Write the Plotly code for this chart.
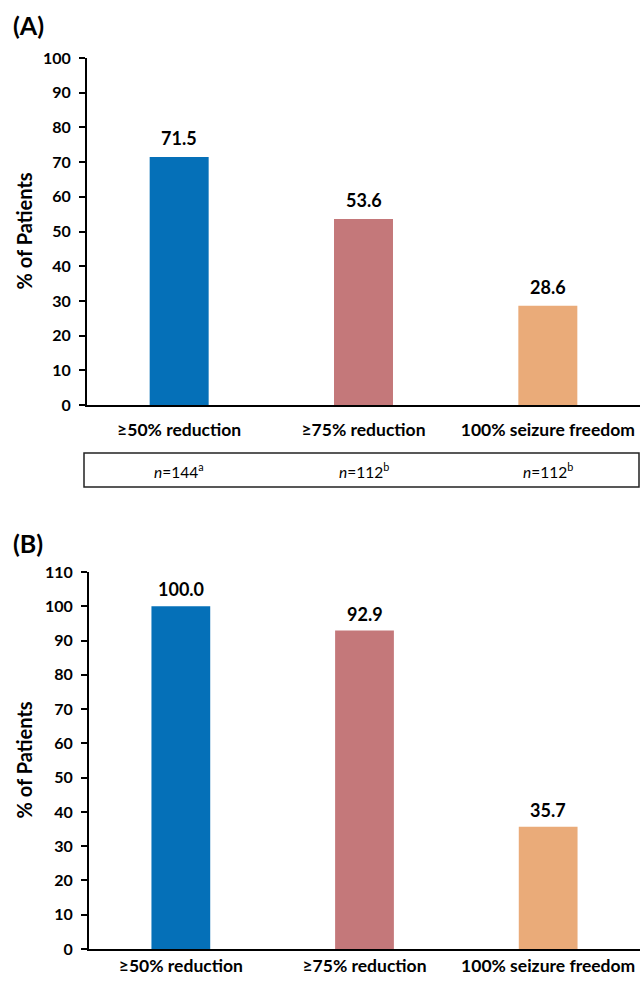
import plotly.graph_objects as go

categories = ["≥50% reduction", "≥75% reduction", "100% seizure freedom"]
values_a = [71.5, 53.6, 28.6]
values_b = [100.0, 92.9, 35.7]
labels_a = ["71.5", "53.6", "28.6"]
labels_b = ["100.0", "92.9", "35.7"]
n_labels = ["<i>n</i>=144<sup>a</sup>", "<i>n</i>=112<sup>b</sup>", "<i>n</i>=112<sup>b</sup>"]
colors = ["#0570B8", "#C4787A", "#EAAB79"]
ticks_a = list(range(0, 101, 10))
ticks_b = list(range(0, 111, 10))
y_title = "% of Patients"

W, H = 640, 984
FONT = "Lato"

def py(p):
    return 1 - p / H

fig = go.Figure()
fig.add_trace(go.Bar(x=categories, y=values_a, marker_color=colors, marker_line_width=0,
                     xaxis="x", yaxis="y", showlegend=False))
fig.add_trace(go.Bar(x=categories, y=values_b, marker_color=colors, marker_line_width=0,
                     xaxis="x2", yaxis="y2", showlegend=False))

annotations = []
for c, v, t in zip(categories, values_a, labels_a):
    annotations.append(dict(x=c, y=v, xref="x", yref="y", text="<b>" + t + "</b>", showarrow=False,
                            yanchor="bottom", yshift=6,
                            font=dict(family=FONT, size=18, color="black")))
for c, v, t in zip(categories, values_b, labels_b):
    annotations.append(dict(x=c, y=v, xref="x2", yref="y2", text="<b>" + t + "</b>", showarrow=False,
                            yanchor="bottom", yshift=4,
                            font=dict(family=FONT, size=18, color="black")))
for c, t in zip(categories, n_labels):
    annotations.append(dict(x=c, y=py(470), xref="x", yref="paper", text=t, showarrow=False,
                            yanchor="middle",
                            font=dict(family=FONT, size=15.5, color="black")))
annotations.append(dict(x=11 / W, y=py(25), xref="paper", yref="paper", text="<b>(A)</b>",
                        showarrow=False, xanchor="left", yanchor="middle",
                        font=dict(family=FONT, size=25, color="black")))
annotations.append(dict(x=11 / W, y=py(543), xref="paper", yref="paper", text="<b>(B)</b>",
                        showarrow=False, xanchor="left", yanchor="middle",
                        font=dict(family=FONT, size=25, color="black")))
annotations.append(dict(x=23 / W, y=0.5, xref="paper", yref="y domain", text="<b>" + y_title + "</b>",
                        showarrow=False, textangle=-90, xanchor="center", yanchor="middle",
                        font=dict(family=FONT, size=20, color="black")))
annotations.append(dict(x=23 / W, y=0.5, xref="paper", yref="y2 domain", text="<b>" + y_title + "</b>",
                        showarrow=False, textangle=-90, xanchor="center", yanchor="middle",
                        font=dict(family=FONT, size=20, color="black")))

tickfont = dict(family=FONT, size=16, color="black", weight="bold")
xtickfont = dict(family=FONT, size=17.5, color="black", weight="bold")

common_y = dict(showline=True, linecolor="black", linewidth=2, ticks="outside", ticklen=6,
                tickwidth=1.5, tickcolor="black", showgrid=False, zeroline=False,
                tickfont=tickfont, automargin=False, ticklabelstandoff=5)
common_x = dict(showline=True, linecolor="black", linewidth=2, ticks="", showgrid=False,
                zeroline=False, tickfont=xtickfont, range=[-0.5, 2.5], automargin=False)

fig.update_layout(
    width=W, height=H,
    margin=dict(l=0, r=0, t=0, b=0, autoexpand=False),
    paper_bgcolor="white", plot_bgcolor="white",
    bargap=0.68,
    xaxis=dict(domain=[87 / W, 1], anchor="y", ticklabelstandoff=8, **common_x),
    yaxis=dict(domain=[py(405), py(58)], anchor="x", range=[0, 100], tickvals=ticks_a, **common_y),
    xaxis2=dict(domain=[89 / W, 1], anchor="y2", ticklabelstandoff=0, **common_x),
    yaxis2=dict(domain=[py(949), py(572)], anchor="x2", range=[0, 110], tickvals=ticks_b, **common_y),
    annotations=annotations,
    shapes=[dict(type="rect", xref="paper", yref="paper", x0=84 / W, x1=639 / W,
                 y0=py(487), y1=py(453), line=dict(color="#222222", width=1.5))],
)

fig.write_html("out.html", config={"displayModeBar": False},
               post_script="document.body.style.margin='0';document.body.style.overflow='hidden';")
